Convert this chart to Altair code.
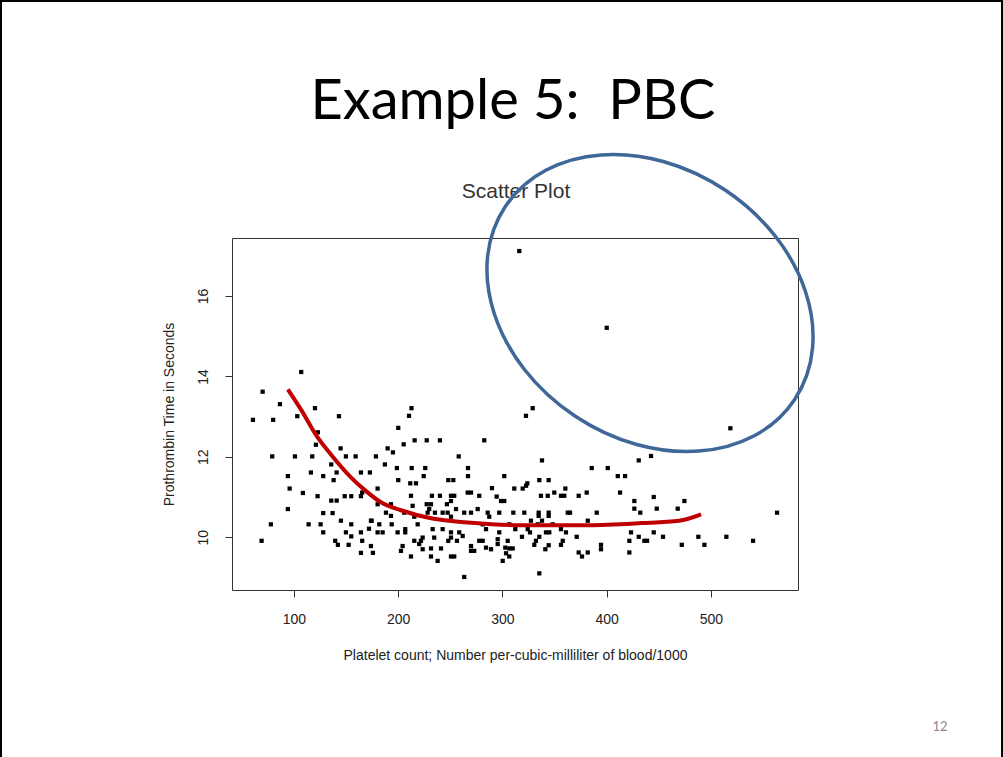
import altair as alt
import pandas as pd

# Platelet count (per-cubic-milliliter / 1000) and prothrombin time (seconds), one entry per patient
platelets = [
    316.2, 400.1, 518.7, 107.0, 329.1, 322.6, 282.6, 442.6,
    70.0, 86.6, 60.7, 80.1, 103.2, 120.2, 143.2, 123.0, 121.1, 144.8,
    79.2, 101.0, 117.6, 149.9, 159.2, 178.7, 135.8, 94.2, 116.3, 128.1,
    141.0, 138.1, 164.3, 172.9, 212.8, 210.4,
    95.9, 108.6, 122.7, 135.8, 141.0, 148.7, 155.0, 164.3, 165.5, 94.2,
    128.1, 137.1, 77.9, 114.1, 125.6, 145.1, 155.0, 174.6, 172.0, 128.1,
    149.9, 155.0, 164.3, 69.0, 139.6, 142.2, 152.5, 165.5, 164.3, 175.8,
    180.3, 200.1, 215.8, 227.4, 240.1, 205.3, 189.9, 195.0, 258.1, 187.3,
    198.8, 213.0, 226.0, 267.0, 224.5, 267.0, 301.8, 200.1, 211.6, 217.1,
    248.1, 252.9,
    290.0, 212.3, 232.4, 240.1, 250.7, 253.8, 266.7, 269.9, 277.8, 294.5,
    298.7, 301.8, 193.1, 213.9, 227.4, 231.5, 246.8, 250.7, 255.5, 188.3,
    205.9, 228.3, 229.8, 235.3, 242.7, 247.5, 263.4, 269.9, 276.3, 285.9,
    297.0, 193.1, 173.9, 215.5, 250.7, 287.4, 181.9, 193.8, 180.3, 185.1,
    199.5, 206.8, 206.8, 218.7, 233.1, 242.7, 250.7, 258.6, 261.9, 281.1,
    284.3, 297.0, 215.5, 221.9, 223.5, 234.6, 248.1, 250.7, 256.4, 277.8,
    281.1, 295.5, 173.9, 204.3, 202.7, 220.2, 223.5, 231.5, 241.1, 269.9,
    269.9, 284.3, 289.1, 295.5, 302.8, 212.3, 231.5, 237.9, 250.7, 253.8,
    273.0, 300.3, 263.4, 180.3,
    338.0, 385.7, 401.1, 430.8, 323.9, 335.4, 344.4, 410.7, 417.7,
    311.4, 319.5, 322.7, 360.4, 337.0, 343.5, 349.8, 356.2, 359.4, 373.2,
    380.9, 412.9, 426.6, 310.5, 321.0, 334.8, 334.8, 344.4, 344.4, 362.7,
    364.9, 390.5, 426.6, 432.3, 327.4, 338.0, 381.9, 306.6, 312.4, 324.3,
    326.5, 333.9, 348.3, 356.2, 341.8, 345.0, 361.0, 318.8, 335.4, 371.3,
    423.4, 430.8, 305.1, 332.2, 330.6, 357.9, 356.2, 421.8, 436.2, 394.6,
    394.6, 309.9, 306.6, 341.2, 344.4, 303.5, 306.6, 373.2, 376.4, 381.9,
    421.8, 335.4,
    445.2, 474.6, 448.1, 468.2, 563.5, 445.2, 454.1, 438.8, 472.1, 488.0,
    493.8, 514.9, 540.5,
]
protime = [
    17.12, 15.21, 12.71, 14.11, 13.21, 13.02, 12.41, 12.02,
    13.62, 13.31, 12.92, 12.92, 13.01, 13.21, 13.01, 12.61, 12.30, 12.21,
    12.01, 12.01, 12.01, 12.01, 12.01, 12.01, 11.81, 11.52, 11.61, 11.52,
    11.61, 11.42, 11.61, 11.61, 13.21, 13.02,
    11.21, 11.10, 11.02, 10.91, 10.91, 11.02, 11.02, 11.02, 11.11, 10.70,
    10.60, 10.60, 10.32, 10.32, 10.32, 10.41, 10.32, 10.41, 10.21, 10.12,
    10.12, 10.02, 10.12, 9.91, 9.91, 9.81, 9.81, 9.91, 9.61, 9.61,
    11.21, 12.72, 12.41, 12.41, 12.41, 12.31, 12.21, 12.11, 12.01, 11.81,
    11.72, 11.72, 11.72, 11.72, 11.52, 11.52, 11.52, 11.42, 11.34, 11.34,
    11.42, 11.42,
    11.22, 11.03, 11.03, 11.03, 11.03, 11.03, 11.11, 11.11, 11.03, 11.01,
    10.90, 10.90, 10.82, 10.78, 10.82, 10.82, 10.82, 10.90, 10.70, 10.61,
    10.61, 10.61, 10.70, 10.61, 10.61, 10.61, 10.61, 10.61, 10.70, 10.61,
    10.61, 10.53, 10.41, 10.51, 10.51, 10.51, 10.32, 10.32, 10.12, 10.12,
    10.12, 10.20, 10.12, 10.32, 10.20, 10.20, 10.12, 10.12, 10.03, 10.32,
    10.20, 10.12, 9.91, 9.91, 9.99, 9.99, 9.91, 9.99, 9.91, 9.91,
    9.91, 9.95, 9.78, 9.78, 9.66, 9.83, 9.70, 9.72, 9.72, 9.78,
    9.66, 9.74, 9.70, 9.83, 9.74, 9.52, 9.52, 9.41, 9.52, 9.52,
    9.66, 9.41, 9.01, 10.82,
    11.91, 11.72, 11.72, 11.91, 11.34, 11.42, 11.42, 11.52, 11.52,
    11.21, 11.21, 11.28, 11.21, 11.03, 11.03, 11.11, 11.03, 11.03, 11.03,
    11.11, 11.11, 10.90, 10.61, 10.61, 10.61, 10.53, 10.61, 10.53, 10.61,
    10.61, 10.61, 10.71, 10.61, 10.41, 10.41, 10.41, 10.32, 10.20, 10.20,
    10.12, 10.32, 10.32, 10.20, 10.12, 10.12, 10.12, 10.01, 10.01, 10.01,
    10.12, 10.01, 9.91, 9.91, 9.81, 9.91, 9.81, 9.91, 9.91, 9.81,
    9.70, 9.72, 9.72, 9.70, 9.80, 9.60, 9.52, 9.62, 9.52, 9.62,
    9.62, 9.10,
    11.00, 10.90, 10.71, 10.71, 10.61, 10.12, 10.01, 9.91, 9.81, 10.01,
    9.81, 10.01, 9.91,
]

# Lowess smooth of prothrombin time on platelet count
smooth_platelets = [94.2, 106.7, 122.1, 135.5, 154.7, 167.2, 183.5, 202.7,
                    231.5, 269.9, 317.9, 382.2, 433.0, 469.5, 490.6]
smooth_protime = [13.68, 13.18, 12.51, 12.06, 11.49, 11.19, 10.87, 10.67,
                  10.47, 10.36, 10.30, 10.30, 10.35, 10.41, 10.57]

x_ticks = [100, 200, 300, 400, 500]
y_ticks = [10, 12, 14, 16]

slide_title = "Example 5:\u00a0 PBC"
plot_title = "Scatter Plot"
x_title = "Platelet count; Number per-cubic-milliliter of blood/1000"
y_title = "Prothrombin Time in Seconds"
page_number = "12"

# Unit-size ellipse outline (rx = 1, ry = 0.78) used as a custom symbol
RING = ("M1,0C1,0.4308,0.5523,0.78,0,0.78C-0.5523,0.78,-1,0.4308,-1,0"
        "C-1,-0.4308,-0.5523,-0.78,0,-0.78C0.5523,-0.78,1,-0.4308,1,0Z")

FONT = "Liberation Sans"
W, H = 566, 352

scatter_df = pd.DataFrame({"platelets": platelets, "protime": protime})
smooth_df = pd.DataFrame({"platelets": smooth_platelets, "protime": smooth_protime})
one = pd.DataFrame({"k": [0]})

x_scale = alt.Scale(domain=[40.6, 583.6], nice=False, zero=False)
y_scale = alt.Scale(domain=[8.686, 17.444], nice=False, zero=False)

x_axis = alt.Axis(values=x_ticks, title=x_title, tickSize=7, labelPadding=15,
                  titlePadding=22, domain=False, grid=False)
y_axis = alt.Axis(values=y_ticks, title=y_title, tickSize=7, labelAngle=-90,
                  labelAlign="center", labelBaseline="bottom", labelPadding=15,
                  titlePadding=20, domain=False, grid=False)

points = alt.Chart(scatter_df).mark_square(size=18, color="black", opacity=1).encode(
    x=alt.X("platelets:Q", scale=x_scale, axis=x_axis),
    y=alt.Y("protime:Q", scale=y_scale, axis=y_axis),
)

smooth = alt.Chart(smooth_df).mark_line(
    color="#c00000", strokeWidth=4, interpolate="monotone"
).encode(
    x=alt.X("platelets:Q", scale=x_scale),
    y=alt.Y("protime:Q", scale=y_scale),
)

ring = alt.Chart(one).mark_point(
    shape=RING, size=120966, angle=33.8, filled=False, color="#3f6797",
    stroke="#3f6797", strokeWidth=3.5, opacity=1,
).encode(x=alt.value(418), y=alt.value(65))

frame = alt.Chart(one).mark_rect(
    fillOpacity=0, stroke="black", strokeWidth=2,
).encode(x=alt.value(-231), x2=alt.value(770), y=alt.value(-237), y2=alt.value(540))


def text_layer(text, x, y, **style):
    return alt.Chart(pd.DataFrame({"t": [text]})).mark_text(**style).encode(
        text="t:N", x=alt.value(x), y=alt.value(y)
    )


title_text = text_layer(slide_title, 281, -136, font="Lato", fontSize=56,
                        color="black", align="center", baseline="middle")
plot_title_text = text_layer(plot_title, 284, -46, font=FONT, fontSize=21,
                             color="#333333", align="center", baseline="middle")
page_text = text_layer(page_number, 708, 489, font="Lato", fontSize=13,
                       color="#8a8a8a", align="center", baseline="middle")

chart = alt.layer(
    frame, title_text, plot_title_text, page_text, points, smooth, ring
).properties(
    width=W, height=H,
    padding={"left": 232, "top": 238, "right": 1003 - 232 - W, "bottom": 757 - 238 - H},
    autosize=alt.AutoSizeParams(type="none"),
    background="white",
).configure_view(
    stroke="#333333", strokeWidth=1
).configure_axis(
    labelFont=FONT, labelFontSize=14, labelColor="#222222",
    titleFont=FONT, titleFontSize=14, titleFontWeight="normal", titleColor="#222222",
    tickColor="#333333", tickWidth=1,
)

chart.save("out.html", embed_options={"renderer": "svg", "actions": False})
